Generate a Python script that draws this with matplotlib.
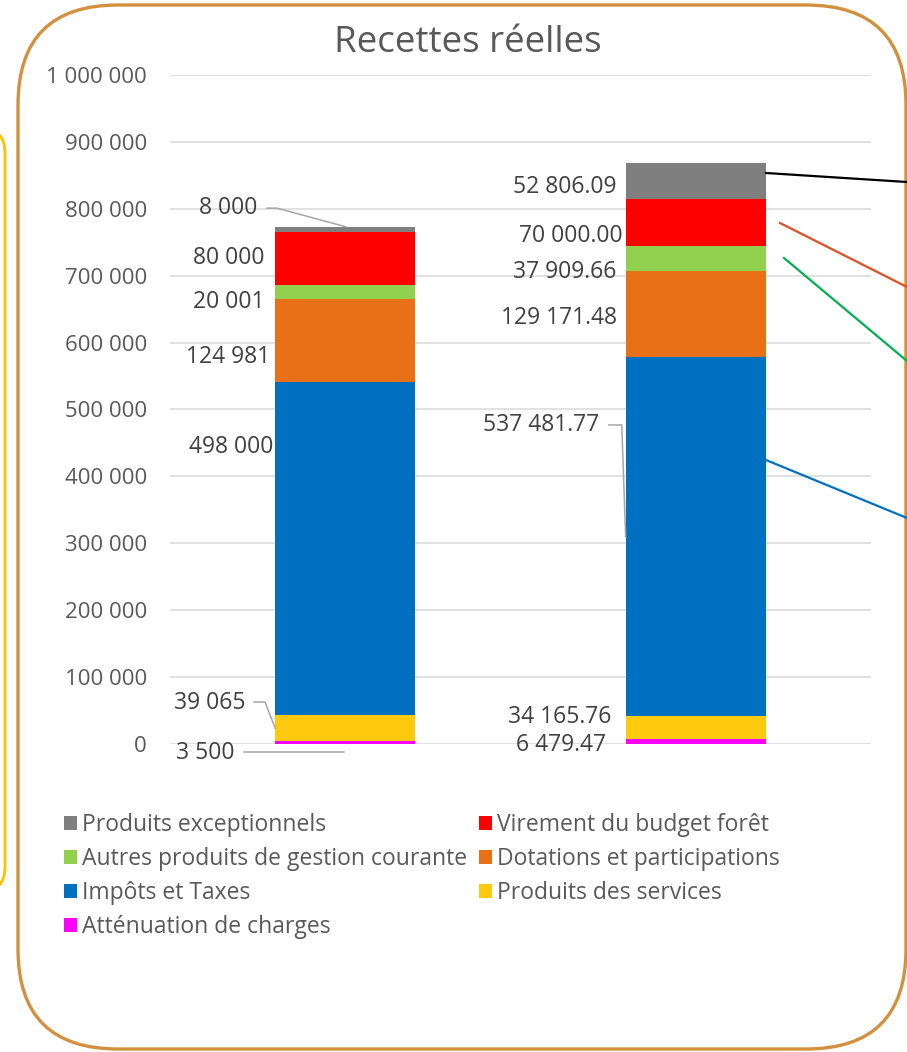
import matplotlib
matplotlib.use("Agg")
import matplotlib.pyplot as plt
from matplotlib.patches import FancyBboxPatch
from matplotlib.lines import Line2D
from matplotlib.transforms import IdentityTransform
from matplotlib.ticker import MultipleLocator, FuncFormatter

plt.rcParams['font.family'] = ['Open Sans', 'DejaVu Sans']

# Données : budget (colonne 1) et réalisé (colonne 2)
categories = ["Budget", "Réalisé"]
attenuation = [3500, 6479.47]
services = [39065, 34165.76]
impots = [498000, 537481.77]
dotations = [124981, 129171.48]
autres = [20001, 37909.66]
virement = [80000, 70000.00]
exceptionnels = [8000, 52806.09]

series = [
    ("Atténuation de charges", attenuation, "#FF00FF"),
    ("Produits des services", services, "#FFC90E"),
    ("Impôts et Taxes", impots, "#0070C0"),
    ("Dotations et participations", dotations, "#EA7017"),
    ("Autres produits de gestion courante", autres, "#92D050"),
    ("Virement du budget forêt", virement, "#FF0000"),
    ("Produits exceptionnels", exceptionnels, "#7F7F7F"),
]

# position des étiquettes (x relatif à la barre, y en unités de données)
lab_bp = [(-0.40, -14200), (-0.386, 60600), (-0.326, 443700), (-0.333, 578900),
          (-0.333, 661200), (-0.333, 726200), (-0.333, 801400)]
lab_re = [(-0.257, -2200), (-0.240, 39700), (-0.277, 476700), (-0.2254, 636900),
          (-0.2254, 705700), (-0.208, 759500), (-0.2254, 832900)]

W, H = 907, 1052
fig = plt.figure(figsize=(W / 100, H / 100), dpi=100)
ax = fig.add_axes([170 / W, 1 - 743.5 / H, 701 / W, 668.2 / H])
ax.set_facecolor("none")

x = list(range(len(categories)))
bottoms = [0.0, 0.0]
handles = []
for name, vals, col in series:
    b = ax.bar(x, vals, 0.4, bottom=bottoms, color=col, label=name, zorder=2)
    handles.append(b)
    bottoms = [bottoms[i] + vals[i] for i in range(len(vals))]

# étiquettes de données
for k, (name, vals, col) in enumerate(series):
    dx, yy = lab_bp[k]
    ax.text(0 + dx, yy, f"{vals[0]:,.0f}".replace(",", " "), ha="center", va="center",
            fontsize=16.5, color="#404040", zorder=4, clip_on=False)
    dx, yy = lab_re[k]
    ax.text(1 + dx, yy, f"{vals[1]:,.2f}".replace(",", " "), ha="right", va="center",
            fontsize=16.5, color="#404040", zorder=4, clip_on=False)

# lignes de rappel
lc = "#A6A6A6"
ax.plot([-0.2233, -0.1948, 0], [801200, 801200, bottoms[0]], color=lc, lw=1.1,
        zorder=3, clip_on=False)
mid_serv = [attenuation[i] + services[i] / 2 for i in range(2)]
ax.plot([-0.2603, -0.229, -0.2], [62100, 62100, mid_serv[0]], color=lc, lw=1.1,
        zorder=3, clip_on=False)
ax.plot([-0.2889, -0.004], [-12700, -12700], color=lc, lw=1.1, zorder=3, clip_on=False)
mid_imp = attenuation[1] + services[1] + impots[1] / 2
ax.plot([1 - 0.2482, 1 - 0.2111, 1 - 0.2], [476700, 476700, mid_imp], color=lc, lw=1.1,
        zorder=3, clip_on=False)

ax.set_xlim(-0.5, 1.5)
ax.set_ylim(0, 1000000)
ax.set_xticks([])
ax.yaxis.set_major_locator(MultipleLocator(100000))
ax.yaxis.set_major_formatter(FuncFormatter(lambda v, p: f"{v:,.0f}".replace(",", " ")))
ax.tick_params(axis="y", length=0, pad=16.5, labelsize=16, labelcolor="#595959")
ax.grid(axis="y", color="#D9D9D9", lw=1.1, zorder=0)
ax.set_axisbelow(True)
for s in ax.spines.values():
    s.set_visible(False)

fig.text(467.5 / W, 1 - 52 / H, "Recettes réelles", ha="center", va="baseline",
         fontsize=26.5, color="#595959")

# légende : ordre ligne par ligne sur deux colonnes
rev = handles[::-1]
order = [rev[0], rev[2], rev[4], rev[6], rev[1], rev[3], rev[5]]
fig.legend(order, [h.get_label() for h in order], ncol=2, frameon=False,
           loc="upper left", bbox_to_anchor=(64 / W, 1 - 813 / H),
           fontsize=16.5, labelcolor="#595959", handlelength=0.55, handleheight=0.55,
           handletextpad=0.25, columnspacing=0.5, labelspacing=0.44,
           borderpad=0, borderaxespad=0)

# cadres arrondis
idt = IdentityTransform()
fig.add_artist(FancyBboxPatch((18, H - 1049), 888, 1044,
                              boxstyle="round,pad=0,rounding_size=100",
                              fc="none", ec="#D3913F", lw=2.4, transform=idt))
fig.add_artist(FancyBboxPatch((-300, H - 892), 305, 764,
                              boxstyle="round,pad=0,rounding_size=25",
                              fc="none", ec="#FFC000", lw=2.0, transform=idt))

# traits de liaison vers la droite
for (x0, y0, x1, y1, c) in [(766, 173, 907, 182, "black"),
                            (780, 223, 907, 287, "#E84C22"),
                            (784, 258, 907, 361, "#00B050"),
                            (766, 460, 907, 518, "#0070C0")]:
    fig.add_artist(Line2D([x0, x1], [H - y0, H - y1], color=c, lw=1.6,
                          transform=idt, zorder=6))

fig.savefig("out.png", dpi=100)
